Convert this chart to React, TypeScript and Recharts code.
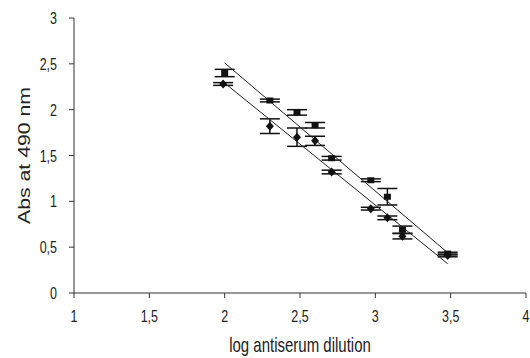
import React from 'react';
import { ComposedChart, Scatter, XAxis, YAxis, ErrorBar } from 'recharts';

const dilutionA = [2.0, 2.3, 2.48, 2.6, 2.71, 2.97, 3.08, 3.18, 3.48];
const absA = [2.4, 2.1, 1.97, 1.83, 1.47, 1.23, 1.05, 0.69, 0.43];
const errA = [0.04, 0.015, 0.03, 0.03, 0.02, 0.015, 0.09, 0.04, 0.015];

const dilutionB = [1.99, 2.3, 2.48, 2.6, 2.71, 2.97, 3.08, 3.18, 3.48];
const absB = [2.28, 1.82, 1.7, 1.66, 1.32, 0.92, 0.82, 0.62, 0.41];
const errB = [0.015, 0.08, 0.1, 0.05, 0.02, 0.015, 0.02, 0.03, 0.015];

const fitAx = [2.0, 3.48];
const fitAy = [2.51, 0.44];
const fitBx = [2.0, 3.48];
const fitBy = [2.29, 0.32];

const xTicks = [1, 1.5, 2, 2.5, 3, 3.5, 4];
const yTicks = [0, 0.5, 1, 1.5, 2, 2.5, 3];

const build = (xs: number[], ys: number[], es?: number[]) =>
  xs.map((x, i) => ({ x, y: ys[i], err: es ? es[i] : 0 }));

const dataA = build(dilutionA, absA, errA);
const dataB = build(dilutionB, absB, errB);
const lineA = build(fitAx, fitAy);
const lineB = build(fitBx, fitBy);

const fmt = (v: number) => String(v).replace('.', ',');

const font = 'Liberation Sans, Arial, sans-serif';
const SY = 1.38;

const Square = (p: any) => (
  <rect x={p.cx - 3.5} y={p.cy - 3} width={7} height={6} fill="#111" />
);
const Diamond = (p: any) => (
  <path d={`M${p.cx},${p.cy - 4.5}L${p.cx + 4},${p.cy}L${p.cx},${p.cy + 4.5}L${p.cx - 4},${p.cy}Z`} fill="#111" />
);
const NoShape = () => <g />;

const YTick = (p: any) => (
  <g transform={`translate(${p.x - 10},${p.y}) scale(1,${SY})`}>
    <text x={0} y={0} dy="0.355em" textAnchor="end" fill="#222" fontSize={12.5} fontFamily={font}>
      {fmt(p.payload.value)}
    </text>
  </g>
);
const XTick = (p: any) => (
  <g transform={`translate(${p.x},${p.y}) scale(1,${SY})`}>
    <text x={0} y={0} dy="0.355em" textAnchor="middle" fill="#222" fontSize={12.5} fontFamily={font}>
      {fmt(p.payload.value)}
    </text>
  </g>
);

const XLabel = (p: any) => {
  const vb = p.viewBox || {};
  const cx = vb.x + vb.width / 2;
  const cy = 345;
  return (
    <g transform={`translate(${cx},${cy}) scale(1,${SY})`}>
      <text x={0} y={0} dy="0.355em" textAnchor="middle" fill="#222" fontSize={15} fontFamily={font}>
        log antiserum dilution
      </text>
    </g>
  );
};
const YLabel = (p: any) => {
  const vb = p.viewBox || {};
  const cy = vb.y + vb.height / 2;
  const cx = 24;
  return (
    <g transform={`translate(${cx},${cy}) rotate(-90)`}>
      <text x={0} y={0} dy="0.355em" textAnchor="middle" fill="#222" fontSize={17} fontFamily={font} textLength={137} lengthAdjust="spacingAndGlyphs">
        Abs at 490 nm
      </text>
    </g>
  );
};

export default function App() {
  return (
    <div style={{ position: 'absolute', left: 0, top: 0 }}>
      <ComposedChart width={530} height={358} margin={{ top: 18, right: 4, left: 0, bottom: 0 }}>
        <XAxis
          xAxisId="b"
          type="number"
          dataKey="x"
          domain={[1, 4]}
          ticks={xTicks}
          height={65}
          stroke="#333"
          tickSize={5}
          tickMargin={18}
          tick={XTick}
          label={<XLabel />}
          allowDataOverflow
        />
        <XAxis xAxisId="t" orientation="top" type="number" dataKey="x" domain={[1, 4]} height={0} tick={false} tickLine={false} stroke="#333" />
        <YAxis
          yAxisId="l"
          type="number"
          domain={[0, 3]}
          ticks={yTicks}
          width={74}
          stroke="#333"
          tickSize={5}
          tick={YTick}
          label={<YLabel />}
        />
        <YAxis yAxisId="r" orientation="right" type="number" domain={[0, 3]} width={0} tick={false} tickLine={false} stroke="#333" />
        <Scatter xAxisId="b" yAxisId="l" data={lineA} dataKey="y" line={{ stroke: '#222', strokeWidth: 1 }} shape={NoShape} isAnimationActive={false} />
        <Scatter xAxisId="b" yAxisId="l" data={lineB} dataKey="y" line={{ stroke: '#222', strokeWidth: 1 }} shape={NoShape} isAnimationActive={false} />
        <Scatter xAxisId="b" yAxisId="l" data={dataA} dataKey="y" shape={Square} isAnimationActive={false}>
          <ErrorBar dataKey="err" direction="y" width={10} stroke="#111" strokeWidth={1.5} />
        </Scatter>
        <Scatter xAxisId="b" yAxisId="l" data={dataB} dataKey="y" shape={Diamond} isAnimationActive={false}>
          <ErrorBar dataKey="err" direction="y" width={10} stroke="#111" strokeWidth={1.5} />
        </Scatter>
      </ComposedChart>
    </div>
  );
}
